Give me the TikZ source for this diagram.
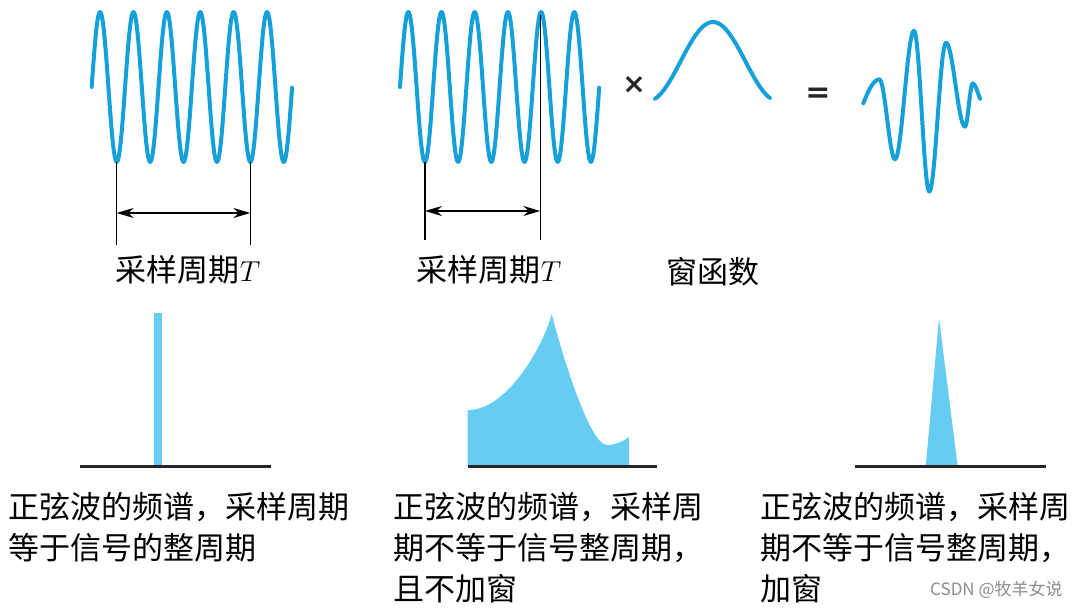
\documentclass[tikz,border=0pt]{standalone}
\usepackage{fontspec}
\newfontfamily\cjk{Noto Sans CJK SC}
\newfontfamily\symb{DejaVu Sans}
\usepackage{tikz}
\usetikzlibrary{arrows.meta}

\definecolor{wave}{RGB}{22,160,218}
\definecolor{specfill}{RGB}{102,204,242}

\begin{document}
\begin{tikzpicture}[x=0.5pt,y=-0.5pt,
      wavy/.style={wave, line width=2pt, line join=round, line cap=round},
      tickline/.style={black, line width=0.75pt},
      periodarrow/.style={black, line width=0.75pt, {Stealth[length=8.5pt,width=5pt]}-{Stealth[length=8.5pt,width=5pt]}},
      axisline/.style={black!85, line width=1.5pt},
      specshape/.style={fill=specfill, draw=none},
      cjktext/.style={font=\cjk\fontsize{15.5}{20.5}\selectfont, inner sep=0pt},
      captext/.style={cjktext, align=left, anchor=north west},
      opsign/.style={font=\symb\bfseries\fontsize{14}{14}\selectfont, text=black!85, inner sep=0pt}]

      \useasboundingbox (0,0) rectangle (1075,608);

      % top row: signals
      \draw [wavy] plot [domain=0:6, samples=241] ({91.7+33.4*\x},{87-75*sin(360*\x)});
      \draw [wavy] plot [domain=0:6, samples=241] ({400+33.2*\x},{87-75*sin(360*\x)});

      \coordinate (p1a) at (116.7,162);
      \coordinate (p1b) at (116.7,245);
      \coordinate (p1c) at (250.3,162);
      \coordinate (p1d) at (250.3,245);
      \coordinate (p1l) at (116.7,213);
      \coordinate (p1r) at (250.3,213);
      \draw [tickline] (p1a)--(p1b);
      \draw [tickline] (p1c)--(p1d);
      \draw [periodarrow] (p1l)--(p1r);

      \coordinate (p2a) at (425,162);
      \coordinate (p2b) at (425,240);
      \coordinate (p2c) at (540.3,15);
      \coordinate (p2d) at (540.3,240);
      \coordinate (p2l) at (425,211);
      \coordinate (p2r) at (540.3,211);
      \draw [tickline] (p2a)--(p2b);
      \draw [tickline] (p2c)--(p2d);
      \draw [periodarrow] (p2l)--(p2r);

      \node [cjktext] (per1) at (188,270) {采样周期$T$};
      \node [cjktext] (per2) at (489,270) {采样周期$T$};

      \node [opsign] (times) at (634,85) {×};
      \draw [wavy] plot [domain=0.054:0.938, samples=80] ({648+130*\x},{101-79*(0.5-0.5*cos(360*\x))});
      \node [cjktext] (win) at (713,272) {窗函数};
      \node [opsign, font=\symb\bfseries\fontsize{15}{15}\selectfont] (equals) at (818,95) {=};

      \draw [wavy] (863.3,103.3) .. controls (867,94) and (873,79.3) .. (879.3,79.3)
            .. controls (885,79.3) and (889.4,159.3) .. (895,159.3)
            .. controls (901.8,159.3) and (907.2,30.7) .. (914,30.7)
            .. controls (919.5,30.7) and (923.8,191.7) .. (929.3,191.7)
            .. controls (935.3,191.7) and (940,42.7) .. (946,42.7)
            .. controls (952.8,42.7) and (958.2,126.7) .. (965,126.7)
            .. controls (967.8,126.7) and (969.9,83.3) .. (972.7,83.3)
            .. controls (975,83.3) and (977.5,92) .. (980,98.7);

      % bottom row: spectra
      \fill [specshape] (153.7,313.3) rectangle (162.3,466.7);
      \draw [axisline] (80,466.7) -- (270.7,466.7);

      \fill [specshape] (467.7,466.7) -- (467.7,410)
            .. controls (505,411) and (542,350) .. (551.7,314)
            .. controls (562,355) and (590,445) .. (606.7,445)
            .. controls (615,445) and (622,442) .. (629,437) -- (629,466.7) -- cycle;
      \draw [axisline] (467.7,466.7) -- (657.3,466.7);

      \fill [specshape] (925.7,466.7) -- (939,318.3) -- (957.7,466.7) -- cycle;
      \draw [axisline] (855,466.7) -- (1045.7,466.7);

      \node [captext] (cap1) at (8,492) {正弦波的频谱，采样周期\\等于信号的整周期};
      \node [captext] (cap2) at (393,492) {正弦波的频谱，采样周\\期不等于信号整周期，\\且不加窗};
      \node [captext] (cap3) at (760,492) {正弦波的频谱，采样周\\期不等于信号整周期，\\加窗};

      \node [font=\cjk\fontsize{8.5}{10}\selectfont, text=black!45, anchor=east, inner sep=0pt] (wmark) at (1063,590) {CSDN @牧羊女说};

  \end{tikzpicture}
\end{document}
